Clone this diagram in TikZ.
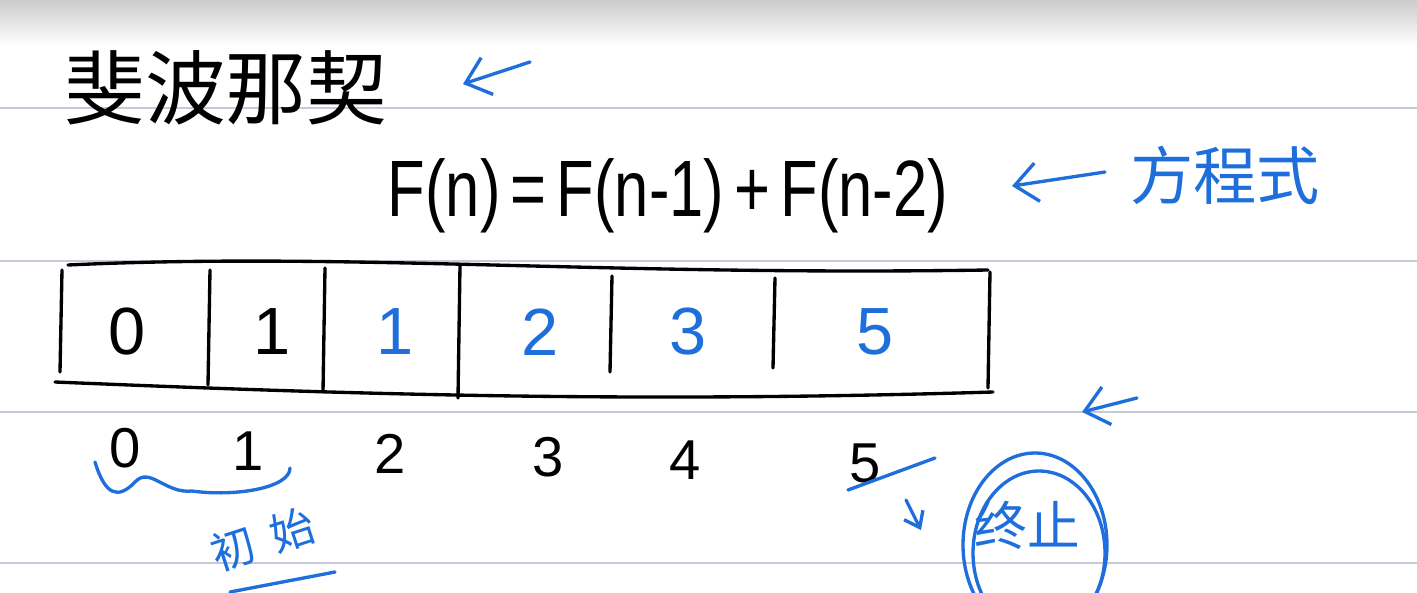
\documentclass[tikz,border=0pt]{standalone}
\usepackage{fontspec}
\setmainfont{Liberation Sans}
\newfontfamily\cjk{Noto Sans CJK SC}
\usetikzlibrary{arrows.meta,calc}
\definecolor{Pen}{HTML}{1E6FDB}
\definecolor{Rule}{HTML}{C5CAD8}

\begin{document}
\begin{tikzpicture}[x=.02cm,y=-.02cm,
    inkstyle/.style={line width=1.9pt,line cap=round,line join=round},
    penstyle/.style={inkstyle,draw=Pen},
    barbstyle/.style={penstyle,-{Straight Barb[length=13pt,width=22pt,line width=1.9pt]}},
    cellstyle/.style={font=\fontsize{38}{40}\selectfont},
    idxstyle/.style={font=\fontsize{32}{34}\selectfont},
    notestyle/.style={font=\cjk\fontsize{25}{27}\selectfont,text=Pen,rotate=18,inner sep=0pt}]
    \useasboundingbox (0,0) rectangle (1417,592);
    \shade[top color=black!20,bottom color=white] (0,0) rectangle (1417,45);
    \foreach \y in {108,261,412,563} \draw[Rule,line width=1.1pt] (0,\y)--(1417,\y);
    % title and formula
    \node[font=\cjk\fontsize{46}{50}\selectfont,anchor=west] (title) at (58,88) {斐波那契};
    \node[font=\fontsize{35}{38}\selectfont] (formula) at (668,196) {\scalebox{1}[1.3]{F(n)\,=\,F(n-1)\,+\,F(n-2)}};
    \node[font=\cjk\fontsize{36}{40}\selectfont,text=Pen] (eqname) at (1225,175) {方程式};
    \coordinate (t1) at (530,62); \coordinate (h1) at (463,84);
    \coordinate (t2) at (1105,172); \coordinate (h2) at (1012,186);
    \coordinate (t3) at (1137,398); \coordinate (h3) at (1082,412);
    \draw[barbstyle] (t1)--(h1);
    \draw[barbstyle] (t2)--(h2);
    \draw[barbstyle] (t3)--(h3);
    % array
    \draw[inkstyle] (68,265) .. controls (350,252) and (600,276) .. (988,270);
    \draw[inkstyle] (55,382) .. controls (300,392) and (600,404) .. (993,392);
    \draw[inkstyle] (62,270)--(60,372);
    \draw[inkstyle] (990,272)--(988,388);
    \foreach \x/\a/\b in {210/270/385,325/268/392,460/266/398,612/276/372,775/278/368}
      \draw[inkstyle] (\x,\a)--(\x-2,\b);
    \foreach \v/\x/\c [count=\i from 0] in {0/127/black,1/272/black,1/395/Pen,2/540/Pen,3/688/Pen,5/875/Pen}
      \node[cellstyle,text=\c] (v\i) at (\x,332) {\v};
    \foreach \x [count=\i from 0] in {125,248,390,548,685,865}
      \node[idxstyle] (i\i) at (\x,448+\i*3) {\i};
    % start and end
    \draw[penstyle] (95,462) .. controls (105,495) and (118,500) .. (135,482)
      .. controls (150,466) and (165,494) .. (192,491) .. controls (235,497) and (290,488) .. (290,468);
    \node[notestyle] (start1) at (233,549) {初};
    \node[notestyle] (start2) at (292,530) {始};
    \draw[penstyle] (230,592)--(335,572);
    \draw[penstyle] (848,490)--(935,458);
    \node[font=\cjk\fontsize{30}{32}\selectfont,text=Pen] (stop) at (1027,525) {终止};
    \coordinate (t4) at (906,500); \coordinate (h4) at (921,530);
    \draw[penstyle,-{Straight Barb[length=8pt,width=12pt,line width=1.9pt]}] (t4)--(h4);
    \draw[penstyle] (stop) ++(8,20) ellipse[x radius=72,y radius=92];
    \draw[penstyle] (stop) ++(12,28) ellipse[x radius=66,y radius=82];
\end{tikzpicture}
\end{document}
